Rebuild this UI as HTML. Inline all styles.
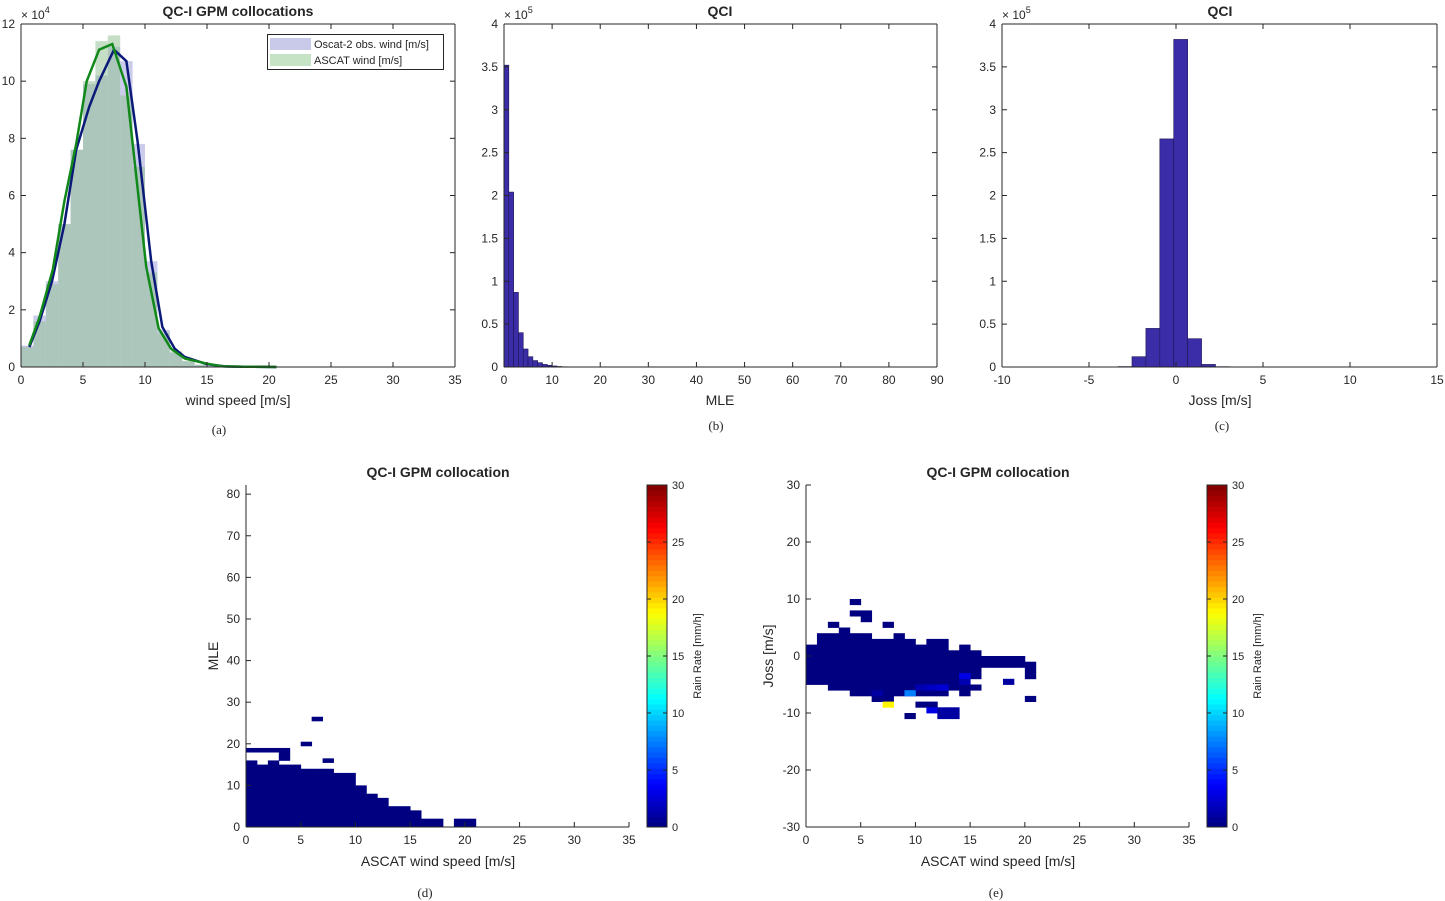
<!DOCTYPE html>
<html><head><meta charset="utf-8"><style>
html,body{margin:0;padding:0;background:#fff;}
svg{display:block;font-family:"Liberation Sans",Arial,sans-serif;}
</style></head><body>
<svg id="fig" width="1445" height="901" viewBox="0 0 1445 901"></svg>
<script>
// ---------- DATA ----------
// panel (a)
const aBinStarts = [0,1,2,3,4,5,6,7,8,9,10,11,12,13,14,15];
const aOscatBars = [0.75,1.8,3.0,5.0,7.6,9.9,10.2,11.2,10.7,7.8,3.7,1.3,0.5,0.2,0.08,0.03];
const aAscatBars = [0.7,1.6,2.9,5.0,7.6,10.0,11.4,11.6,9.5,7.0,3.3,1.2,0.55,0.22,0.08,0.03];
const aOscatX = [0.67,1.5,2.5,3.5,4.45,5.5,6.3,7.5,8.5,9.4,10.5,11.4,12.4,13.2,15,16.5,18,20.6];
const aOscatY = [0.7,1.6,3.0,5.0,7.6,9.1,10.0,11.1,10.7,7.9,3.7,1.4,0.64,0.35,0.1,0.02,0.01,0];
const aAscatX = [0.67,1.5,2.56,3.5,4.45,5.3,6.3,7.36,8.5,10.1,11.1,12.1,13.2,14.96,16.3,18,20.6];
const aAscatY = [0.76,1.75,3.4,5.8,7.8,10.0,11.1,11.3,9.8,3.5,1.35,0.64,0.3,0.12,0.02,0.01,0];
// panel (b)
const bBinStarts = [0,1,2,3,4,5,6,7,8,9,10,11,12,13,14];
const bCounts = [3.52,2.04,0.87,0.40,0.21,0.12,0.075,0.05,0.03,0.02,0.012,0.006,0.003,0.002,0.001];
// panel (c)
const cBinStarts = [-4.13,-3.33,-2.53,-1.73,-0.93,-0.13,0.67,1.47,2.27];
const cCounts = [0.002,0.005,0.12,0.45,2.66,3.82,0.33,0.03,0.004];
// panel (d)
const dColX = [0,1,2,3,4,5,6,7,8,9,10,11,12,13,14,15,16,17,18,19,20];
const dColTop = [16,15,16,15,15,14,14,14,13,13,10,8,7,5,5,4,2,2,0,2,2];
const dExtraX = [0,1,2,3,3,3,5,6,7];
const dExtraY = [18,18,18,18,17,16,19.5,25.5,15.5];
const dExtraRain = [0,0,0,0,0,0,0,0,0];
// panel (e)
const eColX = [0,1,2,3,4,5,6,7,8,9,10,11,12,13,14,15,16,17,18,19,20];
const eColLo = [-5,-5,-6,-6,-7,-7,-8,-8,-7,-7,-7,-7,-7,-6,-7,-4,-2,-2,-2,-2,-4];
const eColHi = [2,4,4,5,4,4,3,3,4,3,2,3,3,1,2,1,0,0,0,0,-1];
const eExtraX = [2,4,4,5,5,7,7,9,10,11,11,12,12,13,13,15,18,20];
const eExtraY = [5,9,7,7,6,5,-9,-11,-9,-9,-10,-10,-11,-10,-11,-6,-5,-8];
const eExtraRain = [0,0,0,0,0,0,19,0,0,0,3,1,1,1,1,0,1,0];
const eHotX = [9,14,14,11,12,6,10];
const eHotY = [-7,-4,-5,-6,-6,-7,-6];
const eHotRain = [7.5,3,1.5,2,2.5,1,1.5];
const cbTicks = [0,5,10,15,20,25,30];

// ---------- helpers ----------
const NS = 'http://www.w3.org/2000/svg';
const svg = document.getElementById('fig');
function el(tag, attrs, parent, text) {
  const e = document.createElementNS(NS, tag);
  for (const k in attrs) e.setAttribute(k, attrs[k]);
  if (text !== undefined) e.textContent = text;
  (parent || svg).appendChild(e);
  return e;
}
function jet(v) {
  const t = Math.max(0, Math.min(1, v / 30));
  const c = x => Math.round(255 * Math.max(0, Math.min(1, x)));
  return `rgb(${c(1.5 - Math.abs(4*t-3))},${c(1.5 - Math.abs(4*t-2))},${c(1.5 - Math.abs(4*t-1))})`;
}
function axes(o) {
  const sx = v => o.x0 + (v - o.xmin) / (o.xmax - o.xmin) * (o.x1 - o.x0);
  const sy = v => o.y1 - (v - o.ymin) / (o.ymax - o.ymin) * (o.y1 - o.y0);
  const g = el('g', {});
  
  
  o.g = g; o.sx = sx; o.sy = sy;
  return o;
}
function drawFrame(o) {
  const g = el('g', {});
  
  
  const st = {stroke:'#262626','stroke-width':1,fill:'none'};
  el('line', Object.assign({x1:o.x0,y1:o.y1,x2:o.x1,y2:o.y1}, st), g);
  el('line', Object.assign({x1:o.x0,y1:o.y0,x2:o.x0,y2:o.y1}, st), g);
  if (o.box) {
    el('line', Object.assign({x1:o.x0,y1:o.y0,x2:o.x1,y2:o.y0}, st), g);
    el('line', Object.assign({x1:o.x1,y1:o.y0,x2:o.x1,y2:o.y1}, st), g);
  }
  o.xticks.forEach(v => {
    const x = o.sx(v);
    el('line', Object.assign({x1:x,y1:o.y1,x2:x,y2:o.y1-5}, st), g);
    if (o.box) el('line', Object.assign({x1:x,y1:o.y0,x2:x,y2:o.y0+5}, st), g);
    const t = el('text', {x:x,y:o.y1+17,'font-size':12,fill:'#262626','text-anchor':'middle'}, g, String(v));
    
    
  });
  o.yticks.forEach((v, i) => {
    const y = o.sy(v);
    el('line', Object.assign({x1:o.x0,y1:y,x2:o.x0+5,y2:y}, st), g);
    if (o.box) el('line', Object.assign({x1:o.x1,y1:y,x2:o.x1-5,y2:y}, st), g);
    const t = el('text', {x:o.x0-6,y:y+4,'font-size':12,fill:'#262626','text-anchor':'end'}, g, o.ylabels ? o.ylabels[i] : String(v));
    
    
  });
}
function label(x, y, txt, name, opts) {
  opts = opts || {};
  const a = {x:x,y:y,'font-size':opts.size||14,fill:opts.fill||'#262626','text-anchor':'middle'};
  if (opts.bold) a['font-weight'] = 'bold';
  if (opts.rot) a.transform = `rotate(${opts.rot} ${x} ${y})`;
  if (opts.serif) a['font-family'] = '"Liberation Serif",serif';
  const t = el('text', a, svg, txt);
  
  
  return t;
}
function exponent(x, y, p, name) {
  const t = el('text', {x:x,y:y,'font-size':12,fill:'#262626'});
  
  
  el('tspan', {}, t, '\u00d7 10');
  el('tspan', {dy:-6,'font-size':9}, t, String(p));
}
const range = (a,b,s) => { const r=[]; for (let v=a; v<=b+1e-9; v+=s) r.push(+v.toFixed(3)); return r; };

// ---------- panel (a) ----------
const A = axes({name:'panel-a',x0:21,x1:455,y0:24,y1:367,xmin:0,xmax:35,ymin:0,ymax:12,box:true,
  xticks:range(0,35,5),yticks:range(0,12,2)});
aBinStarts.forEach((s, i) => {
  const r = el('rect', {x:A.sx(s),y:A.sy(aOscatBars[i]),width:A.sx(s+1)-A.sx(s),height:A.sy(0)-A.sy(aOscatBars[i]),fill:'rgba(160,160,220,0.55)'}, A.g);
  
  
});
aBinStarts.forEach((s, i) => {
  const r = el('rect', {x:A.sx(s),y:A.sy(aAscatBars[i]),width:A.sx(s+1)-A.sx(s),height:A.sy(0)-A.sy(aAscatBars[i]),fill:'rgba(150,195,150,0.55)'}, A.g);
  
  
});
const pb = el('polyline', {points:aOscatX.map((x,i)=>A.sx(x)+','+A.sy(aOscatY[i])).join(' '),fill:'none',stroke:'#0b1a78','stroke-width':2.5}, A.g);


const pg = el('polyline', {points:aAscatX.map((x,i)=>A.sx(x)+','+A.sy(aAscatY[i])).join(' '),fill:'none',stroke:'#11881a','stroke-width':2.5}, A.g);


drawFrame(A);
const lg = el('g', {});


el('rect', {x:267.5,y:34.5,width:176,height:35,fill:'#fff',stroke:'#262626'}, lg);
el('rect', {x:270,y:38,width:41,height:12,fill:'#c9c9ea'}, lg);
el('rect', {x:270,y:54,width:41,height:12,fill:'#c6e3c6'}, lg);
const l1 = el('text', {x:314,y:48,'font-size':11,fill:'#262626'}, lg, 'Oscat-2 obs. wind [m/s]');


const l2 = el('text', {x:314,y:64,'font-size':11,fill:'#262626'}, lg, 'ASCAT wind [m/s]');


exponent(21, 19, 4, 'y-exponent-a');
label(238, 16, 'QC-I GPM collocations', 'title-a', {bold:true});
label(238, 405, 'wind speed [m/s]', 'x-axis-title-a');
label(219, 434, '(a)', 'caption-a', {serif:true, size:13});

// ---------- panel (b) ----------
const yl4 = ['0','0.5','1','1.5','2','2.5','3','3.5','4'];
const B = axes({name:'panel-b',x0:504,x1:937,y0:24,y1:367,xmin:0,xmax:90,ymin:0,ymax:4,box:true,
  xticks:range(0,90,10),yticks:range(0,4,0.5),ylabels:yl4});
bBinStarts.forEach((s, i) => {
  const r = el('rect', {x:B.sx(s),y:B.sy(bCounts[i]),width:B.sx(s+1)-B.sx(s),height:B.sy(0)-B.sy(bCounts[i]),fill:'#3b2ca8',stroke:'#1c1650','stroke-width':0.6}, B.g);
  
  
});
drawFrame(B);
exponent(504, 19, 5, 'y-exponent-b');
label(720, 16, 'QCI', 'title-b', {bold:true});
label(720, 405, 'MLE', 'x-axis-title-b');
label(716, 430, '(b)', 'caption-b', {serif:true, size:13});

// ---------- panel (c) ----------
const C = axes({name:'panel-c',x0:1002,x1:1437,y0:24,y1:367,xmin:-10,xmax:15,ymin:0,ymax:4,box:true,
  xticks:range(-10,15,5),yticks:range(0,4,0.5),ylabels:yl4});
cBinStarts.forEach((s, i) => {
  const r = el('rect', {x:C.sx(s),y:C.sy(cCounts[i]),width:C.sx(s+0.8)-C.sx(s),height:C.sy(0)-C.sy(cCounts[i]),fill:'#3b2ca8',stroke:'#1c1650','stroke-width':0.6}, C.g);
  
  
});
drawFrame(C);
exponent(1002, 19, 5, 'y-exponent-c');
label(1220, 16, 'QCI', 'title-c', {bold:true});
label(1220, 405, 'Joss [m/s]', 'x-axis-title-c');
label(1222, 430, '(c)', 'caption-c', {serif:true, size:13});

// ---------- colorbar ----------
function colorbar(x0, name) {
  const y0 = 485, y1 = 827;
  const g = el('g', {});
  
  
  const n = 64;
  for (let i = 0; i < n; i++) {
    const v = (i + 0.5) / n * 30;
    el('rect', {x:x0,y:y1-(i+1)*(y1-y0)/n,width:20,height:(y1-y0)/n+0.5,fill:jet(v)}, g);
  }
  el('rect', {x:x0,y:y0,width:20,height:y1-y0,fill:'none',stroke:'#262626'}, g);
  cbTicks.forEach(v => {
    const y = y1 - v/30*(y1-y0);
    el('line', {x1:x0+20,y1:y,x2:x0+16,y2:y,stroke:'#262626'}, g);
    el('line', {x1:x0,y1:y,x2:x0+4,y2:y,stroke:'#262626'}, g);
    const t = el('text', {x:x0+25,y:y+4,'font-size':11,fill:'#262626'}, g, String(v));
    
    
  });
  label(x0+54, 656, 'Rain Rate [mm/h]', name + '-label', {size:11, rot:-90});
}

// ---------- panel (d) ----------
const D = axes({name:'panel-d',x0:246,x1:629,y0:485,y1:827,xmin:0,xmax:35,ymin:0,ymax:82.2,box:false,
  xticks:range(0,35,5),yticks:range(0,80,10)});
function cell(P, x, ylo, yhi, rain, nm) {
  const r = el('rect', {x:P.sx(x),y:P.sy(yhi),width:P.sx(x+1)-P.sx(x)+0.4,height:P.sy(ylo)-P.sy(yhi)+0.4,fill:jet(rain)}, P.g);
  
  
}
dColX.forEach((x, i) => { if (dColTop[i] > 0) cell(D, x, 0, dColTop[i], 0, 'heatmap-column'); });
dExtraX.forEach((x, i) => cell(D, x, dExtraY[i], dExtraY[i]+1, dExtraRain[i], 'heatmap-cell'));
drawFrame(D);
colorbar(647, 'colorbar-d');
label(438, 477, 'QC-I GPM collocation', 'title-d', {bold:true});
label(438, 866, 'ASCAT wind speed [m/s]', 'x-axis-title-d');
label(218, 656, 'MLE', 'y-axis-title-d', {rot:-90});
label(425, 897, '(d)', 'caption-d', {serif:true, size:13});

// ---------- panel (e) ----------
const E = axes({name:'panel-e',x0:806,x1:1189,y0:485,y1:827,xmin:0,xmax:35,ymin:-30,ymax:30,box:false,
  xticks:range(0,35,5),yticks:range(-30,30,10)});
eColX.forEach((x, i) => cell(E, x, eColLo[i], eColHi[i], 0, 'heatmap-column'));
eExtraX.forEach((x, i) => cell(E, x, eExtraY[i], eExtraY[i]+1, eExtraRain[i], 'heatmap-cell'));
eHotX.forEach((x, i) => cell(E, x, eHotY[i], eHotY[i]+1, eHotRain[i], 'heatmap-cell'));
drawFrame(E);
colorbar(1207, 'colorbar-e');
label(998, 477, 'QC-I GPM collocation', 'title-e', {bold:true});
label(998, 866, 'ASCAT wind speed [m/s]', 'x-axis-title-e');
label(773, 656, 'Joss [m/s]', 'y-axis-title-e', {rot:-90});
label(996, 897, '(e)', 'caption-e', {serif:true, size:13});
</script>
</body></html>
